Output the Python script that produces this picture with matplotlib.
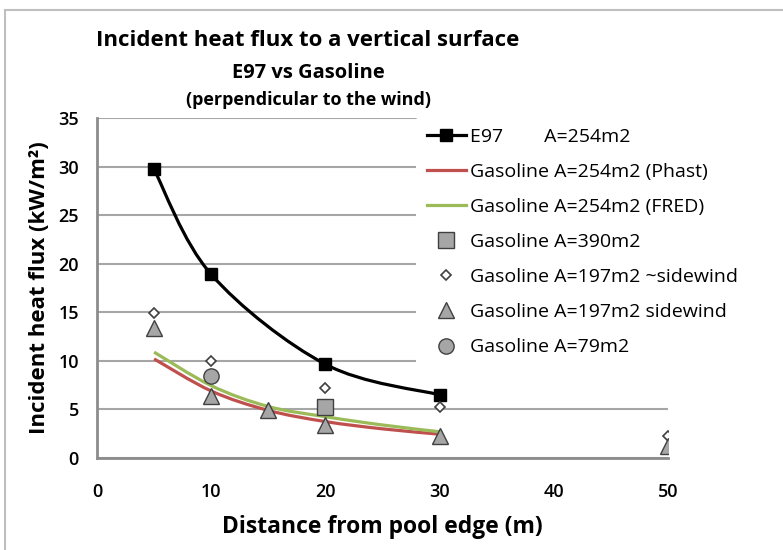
import numpy as np
import matplotlib
matplotlib.use("Agg")
import matplotlib.pyplot as plt
from matplotlib.path import Path
from matplotlib.patches import PathPatch
from matplotlib.lines import Line2D

plt.rcParams["font.family"] = ["Open Sans", "DejaVu Sans"]

# data
e97_x = [5, 10, 20, 30]
e97_y = [29.7, 18.9, 9.65, 6.5]

phast_x = [5, 10, 15, 20, 25, 30]
phast_y = [10.2, 6.9, 4.9, 3.75, 3.0, 2.45]

fred_x = [5, 10, 15, 20, 25, 30]
fred_y = [10.9, 7.45, 5.3, 4.25, 3.4, 2.7]

sq_x = [20]
sq_y = [5.2]

dia_x = [5, 10, 20, 30, 50]
dia_y = [14.9, 10.0, 7.2, 5.3, 2.3]

tri_x = [5, 10, 15, 20, 30, 50]
tri_y = [13.4, 6.4, 4.9, 3.4, 2.3, 1.2]

circ_x = [10]
circ_y = [8.45]

labels = ["E97        A=254m2",
          "Gasoline A=254m2 (Phast)",
          "Gasoline A=254m2 (FRED)",
          "Gasoline A=390m2",
          "Gasoline A=197m2 ~sidewind",
          "Gasoline A=197m2 sidewind",
          "Gasoline A=79m2"]

GRID = "#a6a6a6"
RED = "#c0504d"
GREEN = "#9bbb59"
MGRAY = "#a6a6a6"


def smooth_path(xs, ys):
    # bezier segments like the "smoothed line" option of spreadsheet charts
    p = np.column_stack([xs, ys]).astype(float)
    n = len(p)
    verts = [p[0]]
    codes = [Path.MOVETO]
    for i in range(n - 1):
        p0 = p[i - 1] if i > 0 else p[i]
        p3 = p[i + 2] if i + 2 < n else p[i + 1]
        c1 = p[i] + (p[i + 1] - p0) / 6.0
        c2 = p[i + 1] - (p3 - p[i]) / 6.0
        verts += [c1, c2, p[i + 1]]
        codes += [Path.CURVE4] * 3
    return Path(verts, codes)


fig = plt.figure(figsize=(7.83, 5.5), dpi=100)
ax = fig.add_axes([97 / 783, 92 / 550, 571 / 783, 340 / 550])

ax.add_patch(PathPatch(smooth_path(phast_x, phast_y), fill=False, ec=RED, lw=2.3, zorder=3))
ax.add_patch(PathPatch(smooth_path(fred_x, fred_y), fill=False, ec=GREEN, lw=2.3, zorder=3))
ax.add_patch(PathPatch(smooth_path(e97_x, e97_y), fill=False, ec="black", lw=2.3, zorder=4))
ax.plot(e97_x, e97_y, ls="none", marker="s", ms=8, color="black", zorder=5)

ax.plot(sq_x, sq_y, ls="none", marker="s", ms=11, mfc=MGRAY, mec="#404040", mew=1, zorder=5)
ax.plot(dia_x, dia_y, ls="none", marker="D", ms=5.5, mfc="white", mec="#404040", mew=1.2, zorder=5)
ax.plot(tri_x, tri_y, ls="none", marker="^", ms=11, mfc=MGRAY, mec="#404040", mew=1, zorder=5)
ax.plot(circ_x, circ_y, ls="none", marker="o", ms=11, mfc=MGRAY, mec="#404040", mew=1, zorder=5)

ax.set_xlim(0, 50)
ax.set_ylim(0, 35)
ax.set_xticks(range(0, 51, 10))
ax.set_yticks(range(0, 36, 5))
ax.yaxis.grid(True, color=GRID, lw=1.5)
ax.set_axisbelow(True)
for s in ["top", "right"]:
    ax.spines[s].set_visible(False)
for s in ["left", "bottom"]:
    ax.spines[s].set_color("#8c8c8c")
    ax.spines[s].set_linewidth(2)
ax.tick_params(length=0, labelsize=13, colors="black")
ax.tick_params(axis="x", pad=18)
ax.tick_params(axis="y", pad=13)
for t in ax.get_xticklabels() + ax.get_yticklabels():
    t.set_fontweight("semibold")

ax.set_xlabel("Distance from pool edge (m)", fontsize=16.5, fontweight="bold", labelpad=10)
ax.set_ylabel("Incident heat flux (kW/m²)", fontsize=16, fontweight="bold", labelpad=6)

fig.text(308 / 783, 1 - 40 / 550, "Incident heat flux to a vertical surface", ha="center",
         va="center", fontsize=16, fontweight="bold")
fig.text(308 / 783, 1 - 73 / 550, "E97 vs Gasoline", ha="center", va="center",
         fontsize=14.5, fontweight="bold")
fig.text(308 / 783, 1 - 100 / 550, "(perpendicular to the wind)", ha="center", va="center",
         fontsize=13, fontweight="bold")

handles = [
    Line2D([], [], color="black", lw=2.3, marker="s", ms=8),
    Line2D([], [], color=RED, lw=2.3),
    Line2D([], [], color=GREEN, lw=2.3),
    Line2D([], [], ls="none", marker="s", ms=11, mfc=MGRAY, mec="#404040"),
    Line2D([], [], ls="none", marker="D", ms=5.5, mfc="white", mec="#404040", mew=1.2),
    Line2D([], [], ls="none", marker="^", ms=11, mfc=MGRAY, mec="#404040"),
    Line2D([], [], ls="none", marker="o", ms=11, mfc=MGRAY, mec="#404040"),
]
leg = fig.legend(handles, labels, loc="upper left", bbox_to_anchor=(416 / 783, 1 - 117 / 550),
                 frameon=True, fontsize=14, handlelength=2.0, handletextpad=0.25,
                 labelspacing=0.88, borderpad=0.55, borderaxespad=0)
leg.get_frame().set_edgecolor("none")
leg.get_frame().set_facecolor("white")
leg.get_frame().set_alpha(1)
leg.set_zorder(10)

# outer chart frame
fig.add_artist(Line2D([5 / 783, 5 / 783], [0, 1 - 10 / 550], color="#bfbfbf", lw=1.5))
fig.add_artist(Line2D([5 / 783, 1], [1 - 10 / 550, 1 - 10 / 550], color="#bfbfbf", lw=1.5))

fig.savefig("out.png", dpi=100)
